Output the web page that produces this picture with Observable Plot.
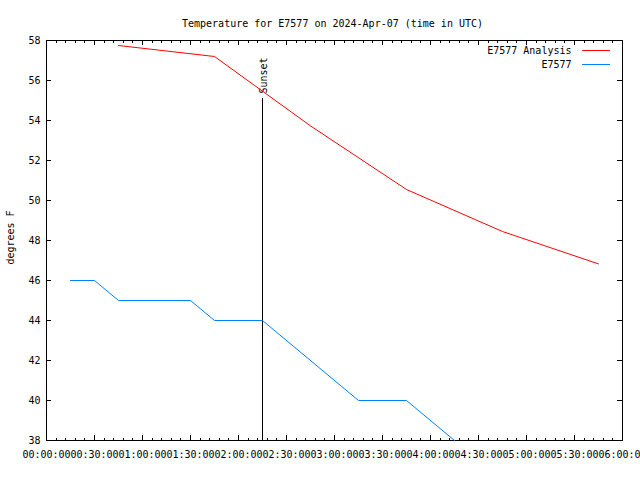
<!DOCTYPE html>
<html><head><meta charset="utf-8">
<script src="https://cdn.jsdelivr.net/npm/d3@7"></script>
<script src="https://cdn.jsdelivr.net/npm/@observablehq/plot@0.6"></script>
<style>body{margin:0;background:#fff} svg{display:block;overflow:hidden}</style>
</head><body><div id="chart"></div>
<script>
const title = "Temperature for E7577 on 2024-Apr-07 (time in UTC)";
const yLabel = "degrees F";
const day = "2024-04-07";
const seriesNames = ["E7577 Analysis", "E7577"];
const seriesColors = ["#ff0000", "#0080ff"];
const analysisTimes = ["00:45", "01:45", "02:45", "03:45", "04:45", "05:45"];
const analysisValues = [57.75, 57.2, 53.73, 50.55, 48.45, 46.83];
const obsTimes = ["00:15", "00:30", "00:45", "01:30", "01:45", "02:15", "03:15", "03:45", "04:15"];
const obsValues = [46, 46, 45, 45, 44, 44, 40, 40, 38];
const sunsetTime = "02:15";
const sunsetTop = 55.1;
const sunsetText = "Sunset";
const xStart = "00:00", xEnd = "06:00";
const yMin = 38, yMax = 58, yStep = 2;
const majorMinutes = 30, minorMinutes = 6;

const parse = t => new Date(`${day}T${t}:00Z`);
const x0 = parse(xStart), x1 = parse(xEnd);
const yTicks = d3.range(yMin, yMax + 0.001, yStep);
const majorX = d3.utcMinute.every(majorMinutes).range(x0, new Date(+x1 + 1));
const minorX = d3.utcMinute.every(minorMinutes).range(x0, new Date(+x1 + 1)).filter(d => d.getUTCMinutes() % majorMinutes !== 0);
const analysis = analysisTimes.map((t, i) => ({time: parse(t), value: analysisValues[i]}));
const obs = obsTimes.map((t, i) => ({time: parse(t), value: obsValues[i]}));

const mL = 46, mR = 18, mT = 40, mB = 40, Wd = 640, Ht = 480;
const W = Wd - mL - mR, H = Ht - mT - mB;
const lineShape = {draw(ctx, l) { ctx.moveTo(0, 0); ctx.lineTo(0, -l); }};
const font = "DejaVu Sans Mono";

const chart = Plot.plot({
  width: Wd, height: Ht,
  marginLeft: mL, marginRight: mR, marginTop: mT, marginBottom: mB,
  style: {fontFamily: font, fontSize: "10px", background: "#fff", color: "#000"},
  x: {type: "utc", domain: [x0, x1]},
  y: {domain: [yMin, yMax]},
  marks: [
    Plot.frame({stroke: "#000", shapeRendering: "crispEdges"}),
    Plot.tickX(majorX, {x: d => d, insetTop: H - 5, stroke: "#000", shapeRendering: "crispEdges"}),
    Plot.tickX(majorX, {x: d => d, insetBottom: H - 5, stroke: "#000", shapeRendering: "crispEdges"}),
    Plot.tickX(minorX, {x: d => d, insetTop: H - 2.5, stroke: "#000", shapeRendering: "crispEdges"}),
    Plot.tickX(minorX, {x: d => d, insetBottom: H - 2.5, stroke: "#000", shapeRendering: "crispEdges"}),
    Plot.tickY(yTicks, {y: d => d, insetRight: W - 5, stroke: "#000", shapeRendering: "crispEdges"}),
    Plot.tickY(yTicks, {y: d => d, insetLeft: W - 5, stroke: "#000", shapeRendering: "crispEdges"}),
    Plot.axisX({ticks: majorX, tickSize: 0, tickPadding: 10, tickFormat: d3.utcFormat("%H:%M:%S"), label: null, anchor: "bottom"}),
    Plot.axisY({ticks: yTicks, tickSize: 0, tickPadding: 6, label: null, anchor: "left"}),
    Plot.ruleX([sunsetTime], {x: parse, y1: yMin, y2: sunsetTop, stroke: "#000", shapeRendering: "crispEdges"}),
    Plot.text([sunsetText], {x: () => parse(sunsetTime), y: () => sunsetTop, text: d => d, rotate: -90, textAnchor: "start", lineAnchor: "middle", dx: 1, dy: -5}),
    Plot.line(analysis, {x: "time", y: "value", stroke: seriesColors[0], strokeWidth: 1}),
    Plot.line(obs, {x: "time", y: "value", stroke: seriesColors[1], strokeWidth: 1}),
    Plot.text([title], {frameAnchor: "top", text: d => d, lineAnchor: "middle", dx: -2, dy: -17}),
    Plot.text([yLabel], {frameAnchor: "left", text: d => d, rotate: -90, textAnchor: "middle", lineAnchor: "middle", dx: -36, dy: -3}),
    Plot.text([seriesNames[0]], {frameAnchor: "top-right", text: d => d, textAnchor: "end", lineAnchor: "middle", dx: -51, dy: 10}),
    Plot.text([seriesNames[1]], {frameAnchor: "top-right", text: d => d, textAnchor: "end", lineAnchor: "middle", dx: -51, dy: 24}),
    Plot.vector([0], {frameAnchor: "top-right", length: 27, rotate: 90, anchor: "start", shape: lineShape, stroke: seriesColors[0], strokeWidth: 1, dx: -40, dy: 10}),
    Plot.vector([0], {frameAnchor: "top-right", length: 27, rotate: 90, anchor: "start", shape: lineShape, stroke: seriesColors[1], strokeWidth: 1, dx: -40, dy: 24})
  ]
});
document.getElementById("chart").appendChild(chart);
</script>
</body></html>
